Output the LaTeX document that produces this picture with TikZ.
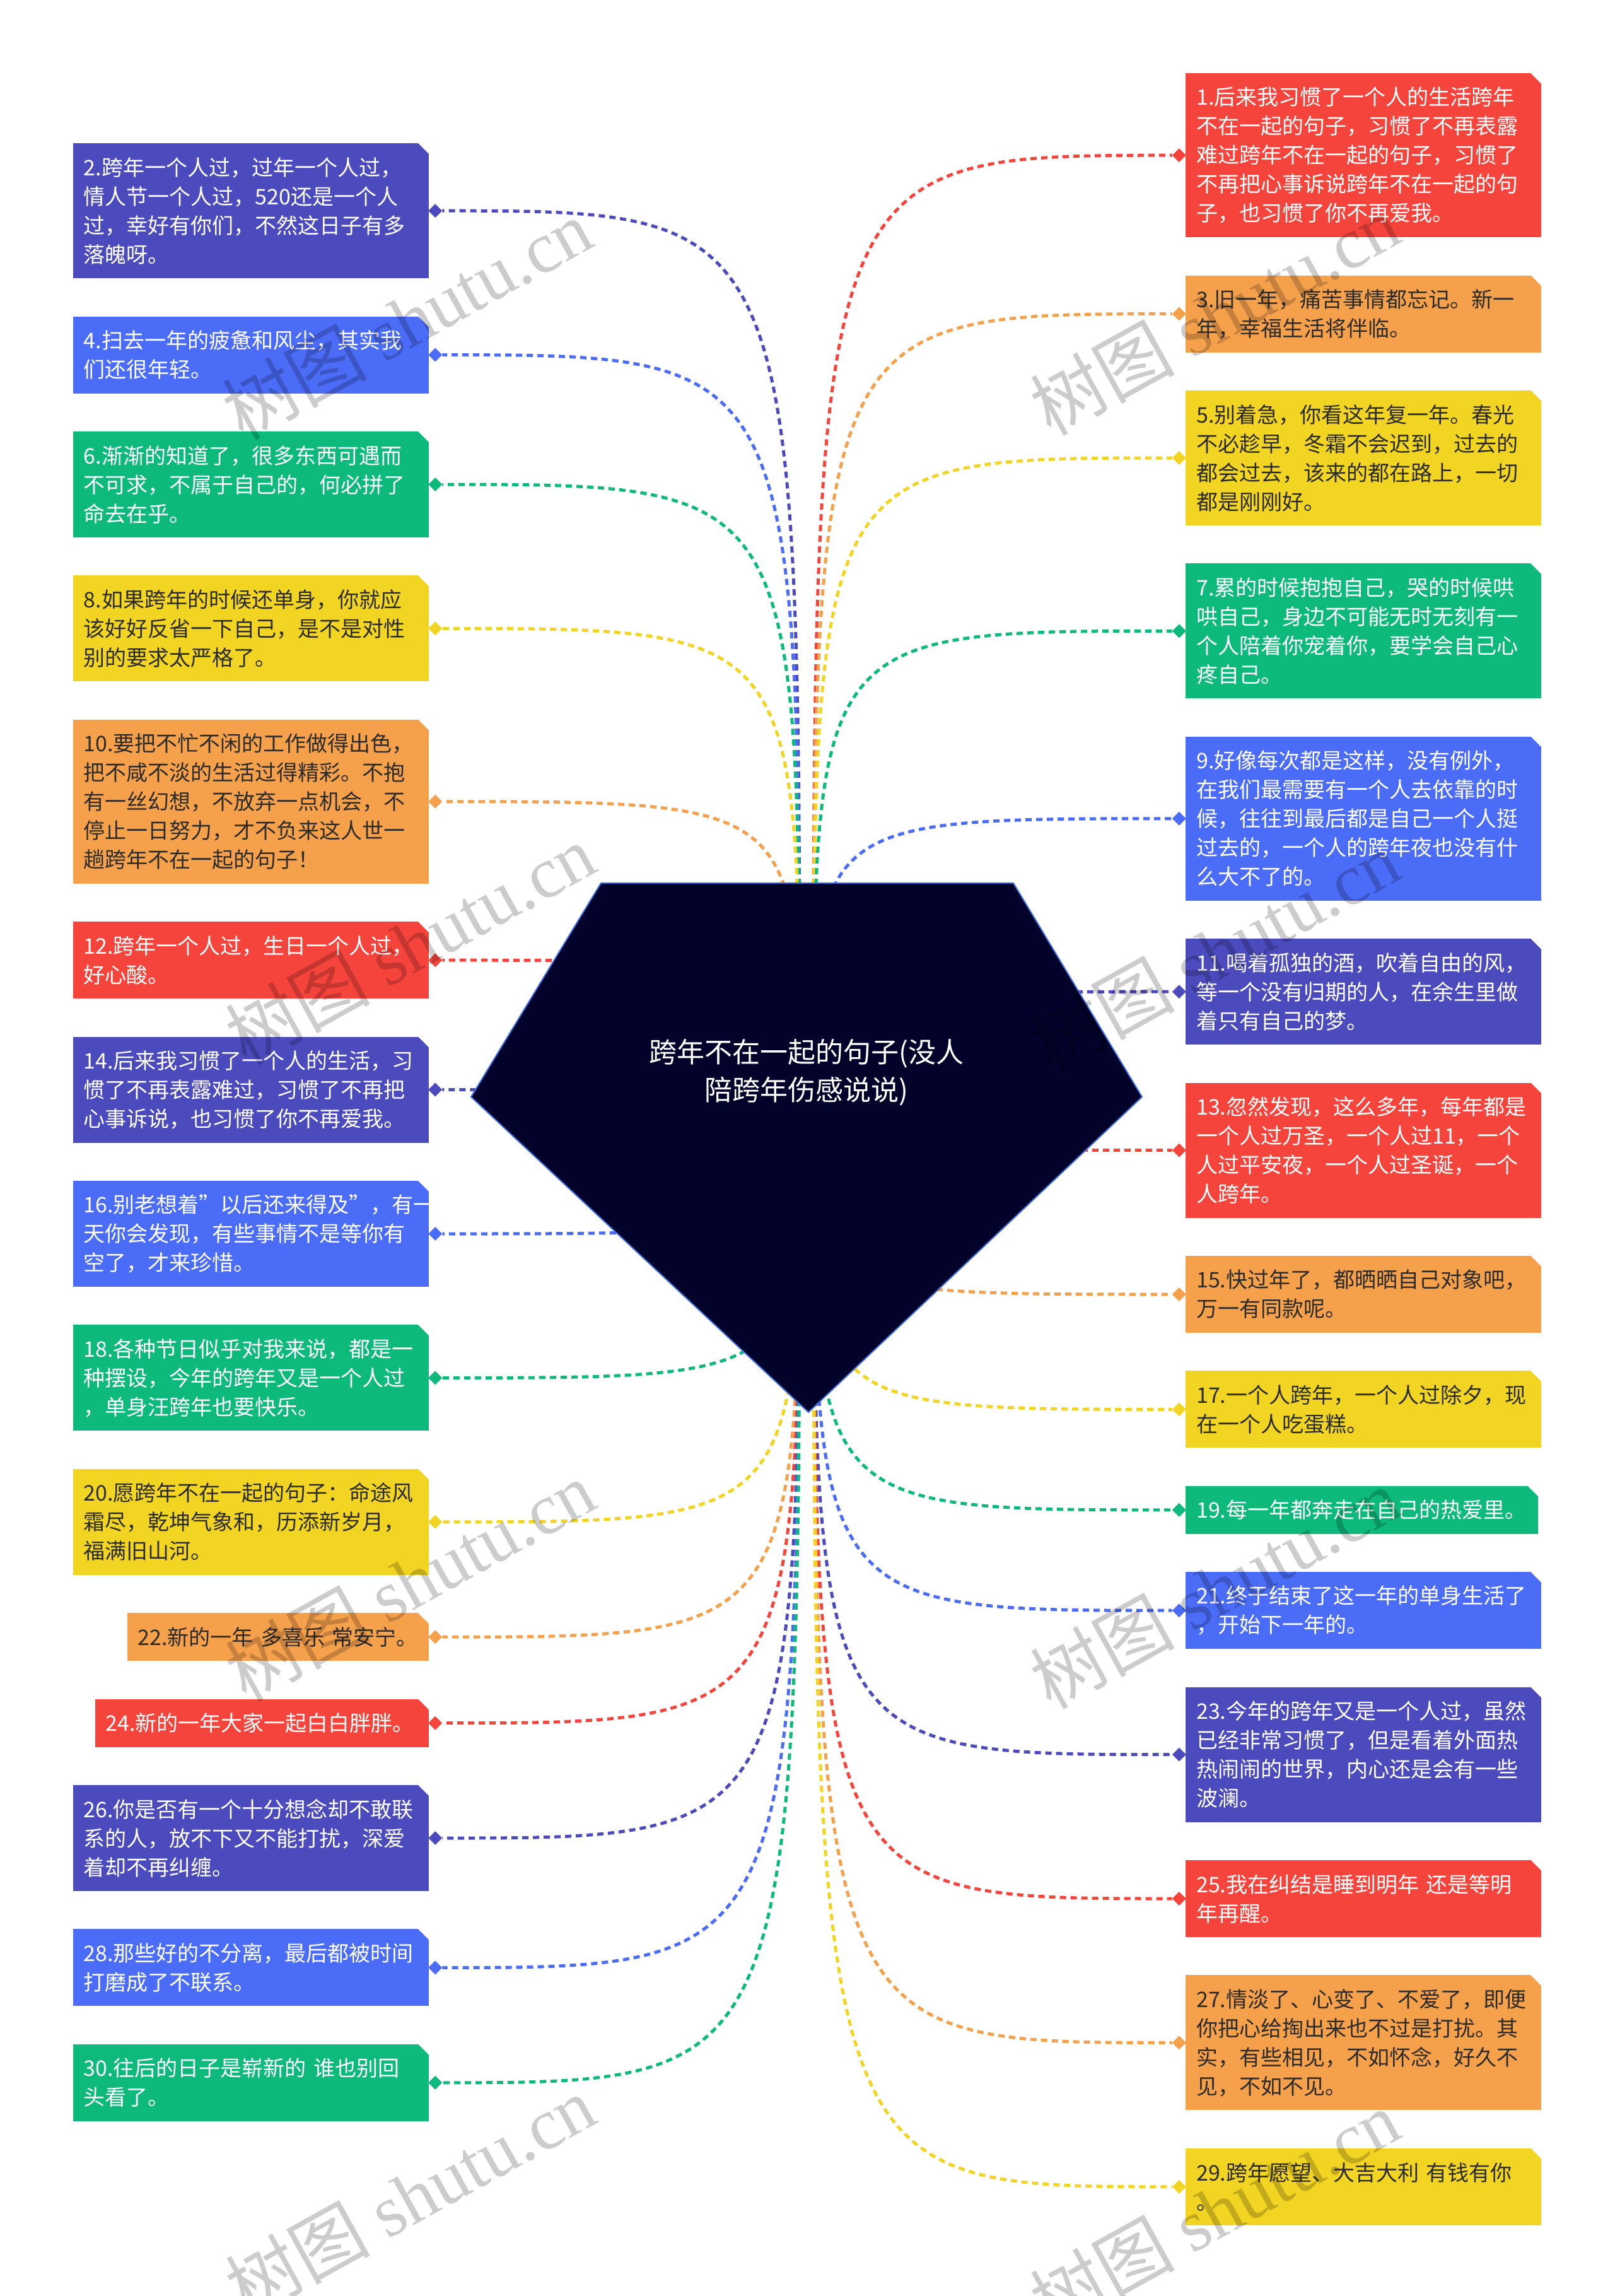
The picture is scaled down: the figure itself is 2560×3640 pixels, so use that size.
\documentclass[tikz,border=0pt]{standalone}
\usepackage{fontspec}
\setmainfont{Noto Sans CJK SC}
\newfontfamily\latinserif{Liberation Serif}
\usetikzlibrary{positioning,shapes.geometric,backgrounds}

\definecolor{qred}{HTML}{F5443B}
\definecolor{qindigo}{HTML}{4B4BBE}
\definecolor{qblue}{HTML}{4A6CF6}
\definecolor{qgreen}{HTML}{0DBA7C}
\definecolor{qyellow}{HTML}{F2D422}
\definecolor{qorange}{HTML}{F5A04B}
\definecolor{qdark}{HTML}{2B2B2B}
\definecolor{rootfill}{HTML}{02022A}
\definecolor{rootline}{HTML}{3F6FE0}

\tikzset{
	box/.style={rectangle, inner xsep=17pt, inner ysep=0pt, text width=530pt, align=left, font=\fontsize{34}{46}\selectfont},
	boxred/.style={box, fill=qred, text=white},
	boxindigo/.style={box, fill=qindigo, text=white},
	boxblue/.style={box, fill=qblue, text=white},
	boxgreen/.style={box, fill=qgreen, text=white},
	boxyellow/.style={box, fill=qyellow, text=qdark},
	boxorange/.style={box, fill=qorange, text=qdark},
	lines1/.style={minimum height=76pt},
	lines2/.style={minimum height=122pt},
	lines3/.style={minimum height=168pt},
	lines4/.style={minimum height=214pt},
	lines5/.style={minimum height=260pt},
	knob/.style={diamond, fill=#1, inner sep=0pt, minimum size=22pt},
	link/.style={draw=#1, line width=5pt, dash pattern=on 10pt off 7pt},
	headline/.style={text=white, align=center, font=\fontsize{44}{60}\selectfont},
	stamp/.style={text=black, text opacity=0.2, rotate=29, font=\fontsize{115}{115}\selectfont}
}

\begin{document}
\begin{tikzpicture}[x=1pt, y=-1pt]
			%%%%% START %%%%%
			\useasboundingbox (0,0) rectangle (2560,3640);
			
			% centre
			\filldraw[fill=rootfill, draw=rootline, line width=2pt] (953,1400) -- (1607,1400) -- (1811,1739) -- (1282,2239) -- (747,1739) -- cycle;
			\coordinate (hubl) at (1268,1760);
			\coordinate (hubr) at (1290,1760);
			\node[headline] (root) at (1279,1700) {跨年不在一起的句子(没人\\陪跨年伤感说说)};
			
			% left column
			\node[boxindigo, lines4, anchor=north east] (b2) at (680,227) {2.跨年一个人过，过年一个人过，\\情人节一个人过，520还是一个人\\过，幸好有你们，不然这日子有多\\落魄呀。};
			\node[boxblue, lines2, below left=60pt and 0pt of b2.south east] (b4) {4.扫去一年的疲惫和风尘，其实我\\们还很年轻。};
			\node[boxgreen, lines3, below left=60pt and 0pt of b4.south east] (b6) {6.渐渐的知道了，很多东西可遇而\\不可求，不属于自己的，何必拼了\\命去在乎。};
			\node[boxyellow, lines3, below left=60pt and 0pt of b6.south east] (b8) {8.如果跨年的时候还单身，你就应\\该好好反省一下自己，是不是对性\\别的要求太严格了。};
			\node[boxorange, lines5, below left=60pt and 0pt of b8.south east] (b10) {10.要把不忙不闲的工作做得出色，\\把不咸不淡的生活过得精彩。不抱\\有一丝幻想，不放弃一点机会，不\\停止一日努力，才不负来这人世一\\趟跨年不在一起的句子！};
			\node[boxred, lines2, below left=60pt and 0pt of b10.south east] (b12) {12.跨年一个人过，生日一个人过，\\好心酸。};
			\node[boxindigo, lines3, below left=60pt and 0pt of b12.south east] (b14) {14.后来我习惯了一个人的生活，习\\惯了不再表露难过，习惯了不再把\\心事诉说，也习惯了你不再爱我。};
			\node[boxblue, lines3, below left=60pt and 0pt of b14.south east] (b16) {16.别老想着"以后还来得及"，有一\\天你会发现，有些事情不是等你有\\空了，才来珍惜。};
			\node[boxgreen, lines3, below left=60pt and 0pt of b16.south east] (b18) {18.各种节日似乎对我来说，都是一\\种摆设，今年的跨年又是一个人过\\，单身汪跨年也要快乐。};
			\node[boxyellow, lines3, below left=60pt and 0pt of b18.south east] (b20) {20.愿跨年不在一起的句子：命途风\\霜尽，乾坤气象和，历添新岁月，\\福满旧山河。};
			\node[boxorange, lines1, text width=444pt, below left=60pt and 0pt of b20.south east] (b22) {22.新的一年 多喜乐 常安宁。};
			\node[boxred, lines1, text width=495pt, below left=60pt and 0pt of b22.south east] (b24) {24.新的一年大家一起白白胖胖。};
			\node[boxindigo, lines3, below left=60pt and 0pt of b24.south east] (b26) {26.你是否有一个十分想念却不敢联\\系的人，放不下又不能打扰，深爱\\着却不再纠缠。};
			\node[boxblue, lines2, below left=60pt and 0pt of b26.south east] (b28) {28.那些好的不分离，最后都被时间\\打磨成了不联系。};
			\node[boxgreen, lines2, below left=60pt and 0pt of b28.south east] (b30) {30.往后的日子是崭新的 谁也别回\\头看了。};
			
			% right column
			\node[boxred, lines5, anchor=north west] (b1) at (1880,116) {1.后来我习惯了一个人的生活跨年\\不在一起的句子，习惯了不再表露\\难过跨年不在一起的句子，习惯了\\不再把心事诉说跨年不在一起的句\\子，也习惯了你不再爱我。};
			\node[boxorange, lines2, below right=60pt and 0pt of b1.south west] (b3) {3.旧一年，痛苦事情都忘记。新一\\年，幸福生活将伴临。};
			\node[boxyellow, lines4, below right=60pt and 0pt of b3.south west] (b5) {5.别着急，你看这年复一年。春光\\不必趁早，冬霜不会迟到，过去的\\都会过去，该来的都在路上，一切\\都是刚刚好。};
			\node[boxgreen, lines4, below right=60pt and 0pt of b5.south west] (b7) {7.累的时候抱抱自己，哭的时候哄\\哄自己，身边不可能无时无刻有一\\个人陪着你宠着你，要学会自己心\\疼自己。};
			\node[boxblue, lines5, below right=60pt and 0pt of b7.south west] (b9) {9.好像每次都是这样，没有例外，\\在我们最需要有一个人去依靠的时\\候，往往到最后都是自己一个人挺\\过去的，一个人的跨年夜也没有什\\么大不了的。};
			\node[boxindigo, lines3, below right=60pt and 0pt of b9.south west] (b11) {11.喝着孤独的酒，吹着自由的风，\\等一个没有归期的人，在余生里做\\着只有自己的梦。};
			\node[boxred, lines4, below right=60pt and 0pt of b11.south west] (b13) {13.忽然发现，这么多年，每年都是\\一个人过万圣，一个人过11，一个\\人过平安夜，一个人过圣诞，一个\\人跨年。};
			\node[boxorange, lines2, below right=60pt and 0pt of b13.south west] (b15) {15.快过年了，都晒晒自己对象吧，\\万一有同款呢。};
			\node[boxyellow, lines2, below right=60pt and 0pt of b15.south west] (b17) {17.一个人跨年，一个人过除夕，现\\在一个人吃蛋糕。};
			\node[boxgreen, lines1, text width=525pt, below right=60pt and 0pt of b17.south west] (b19) {19.每一年都奔走在自己的热爱里。};
			\node[boxblue, lines2, below right=60pt and 0pt of b19.south west] (b21) {21.终于结束了这一年的单身生活了\\，开始下一年的。};
			\node[boxindigo, lines4, below right=60pt and 0pt of b21.south west] (b23) {23.今年的跨年又是一个人过，虽然\\已经非常习惯了，但是看着外面热\\热闹闹的世界，内心还是会有一些\\波澜。};
			\node[boxred, lines2, below right=60pt and 0pt of b23.south west] (b25) {25.我在纠结是睡到明年 还是等明\\年再醒。};
			\node[boxorange, lines4, below right=60pt and 0pt of b25.south west] (b27) {27.情淡了、心变了、不爱了，即便\\你把心给掏出来也不过是打扰。其\\实，有些相见，不如怀念，好久不\\见，不如不见。};
			\node[boxyellow, lines2, below right=60pt and 0pt of b27.south west] (b29) {29.跨年愿望、大吉大利 有钱有你\\。};
			
			% cut corners
			\foreach \n in {1,...,30}
				\fill[white] (b\n.north east) ++(-17,0) -- ++(17,0) -- ++(0,17) -- cycle;
			
			% diamonds
			\node[knob=qindigo, right=-1pt of b2] (d2) {};
			\node[knob=qblue, right=-1pt of b4] (d4) {};
			\node[knob=qgreen, right=-1pt of b6] (d6) {};
			\node[knob=qyellow, right=-1pt of b8] (d8) {};
			\node[knob=qorange, right=-1pt of b10] (d10) {};
			\node[knob=qred, right=-1pt of b12] (d12) {};
			\node[knob=qindigo, right=-1pt of b14] (d14) {};
			\node[knob=qblue, right=-1pt of b16] (d16) {};
			\node[knob=qgreen, right=-1pt of b18] (d18) {};
			\node[knob=qyellow, right=-1pt of b20] (d20) {};
			\node[knob=qorange, right=-1pt of b22] (d22) {};
			\node[knob=qred, right=-1pt of b24] (d24) {};
			\node[knob=qindigo, right=-1pt of b26] (d26) {};
			\node[knob=qblue, right=-1pt of b28] (d28) {};
			\node[knob=qgreen, right=-1pt of b30] (d30) {};
			
			\node[knob=qred, left=-1pt of b1] (d1) {};
			\node[knob=qorange, left=-1pt of b3] (d3) {};
			\node[knob=qyellow, left=-1pt of b5] (d5) {};
			\node[knob=qgreen, left=-1pt of b7] (d7) {};
			\node[knob=qblue, left=-1pt of b9] (d9) {};
			\node[knob=qindigo, left=-1pt of b11] (d11) {};
			\node[knob=qred, left=-1pt of b13] (d13) {};
			\node[knob=qorange, left=-1pt of b15] (d15) {};
			\node[knob=qyellow, left=-1pt of b17] (d17) {};
			\node[knob=qgreen, left=-1pt of b19] (d19) {};
			\node[knob=qblue, left=-1pt of b21] (d21) {};
			\node[knob=qindigo, left=-1pt of b23] (d23) {};
			\node[knob=qred, left=-1pt of b25] (d25) {};
			\node[knob=qorange, left=-1pt of b27] (d27) {};
			\node[knob=qyellow, left=-1pt of b29] (d29) {};
			
			% dotted links, behind the centre
			\begin{scope}[on background layer]
				\fill[white] (0,0) rectangle (2560,3640);
				\draw[link=qred] (hubr) .. controls (hubr |- d1) .. (d1);
				\draw[link=qindigo] (hubl) .. controls (hubl |- d2) .. (d2);
				\draw[link=qorange] (hubr) .. controls (hubr |- d3) .. (d3);
				\draw[link=qblue] (hubl) .. controls (hubl |- d4) .. (d4);
				\draw[link=qyellow] (hubr) .. controls (hubr |- d5) .. (d5);
				\draw[link=qgreen] (hubl) .. controls (hubl |- d6) .. (d6);
				\draw[link=qgreen] (hubr) .. controls (hubr |- d7) .. (d7);
				\draw[link=qyellow] (hubl) .. controls (hubl |- d8) .. (d8);
				\draw[link=qblue] (hubr) .. controls (hubr |- d9) .. (d9);
				\draw[link=qorange] (hubl) .. controls (hubl |- d10) .. (d10);
				\draw[link=qindigo] (hubr) .. controls (hubr |- d11) .. (d11);
				\draw[link=qred] (hubl) .. controls (hubl |- d12) .. (d12);
				\draw[link=qred] (hubr) .. controls (hubr |- d13) .. (d13);
				\draw[link=qindigo] (hubl) .. controls (hubl |- d14) .. (d14);
				\draw[link=qorange] (hubr) .. controls (hubr |- d15) .. (d15);
				\draw[link=qblue] (hubl) .. controls (hubl |- d16) .. (d16);
				\draw[link=qyellow] (hubr) .. controls (hubr |- d17) .. (d17);
				\draw[link=qgreen] (hubl) .. controls (hubl |- d18) .. (d18);
				\draw[link=qgreen] (hubr) .. controls (hubr |- d19) .. (d19);
				\draw[link=qyellow] (hubl) .. controls (hubl |- d20) .. (d20);
				\draw[link=qblue] (hubr) .. controls (hubr |- d21) .. (d21);
				\draw[link=qorange] (hubl) .. controls (hubl |- d22) .. (d22);
				\draw[link=qindigo] (hubr) .. controls (hubr |- d23) .. (d23);
				\draw[link=qred] (hubl) .. controls (hubl |- d24) .. (d24);
				\draw[link=qred] (hubr) .. controls (hubr |- d25) .. (d25);
				\draw[link=qindigo] (hubl) .. controls (hubl |- d26) .. (d26);
				\draw[link=qorange] (hubr) .. controls (hubr |- d27) .. (d27);
				\draw[link=qblue] (hubl) .. controls (hubl |- d28) .. (d28);
				\draw[link=qyellow] (hubr) .. controls (hubr |- d29) .. (d29);
				\draw[link=qgreen] (hubl) .. controls (hubl |- d30) .. (d30);
			\end{scope}
			
			% watermarks
			\node[stamp] (w1) at (645,506) {树图 {\latinserif shutu.cn}};
			\node[stamp] (w2) at (1926,499) {树图 {\latinserif shutu.cn}};
			\node[stamp] (w3) at (650,1497) {树图 {\latinserif shutu.cn}};
			\node[stamp] (w4) at (1926,1508) {树图 {\latinserif shutu.cn}};
			\node[stamp] (w5) at (650,2506) {树图 {\latinserif shutu.cn}};
			\node[stamp] (w6) at (1926,2518) {树图 {\latinserif shutu.cn}};
			\node[stamp] (w7) at (650,3481) {树图 {\latinserif shutu.cn}};
			\node[stamp] (w8) at (1926,3504) {树图 {\latinserif shutu.cn}};
			
			%%%%% END %%%%%
\end{tikzpicture}
\end{document}
